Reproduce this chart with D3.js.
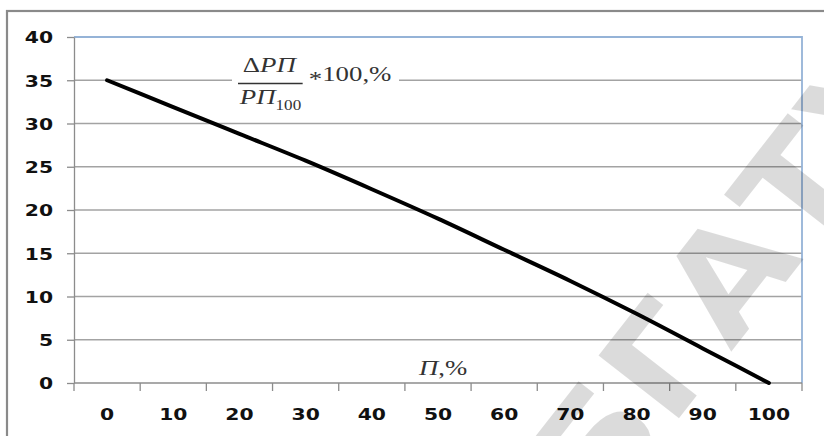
<!DOCTYPE html>
<html>
<head>
<meta charset="utf-8">
<script src="https://cdn.jsdelivr.net/npm/d3@7"></script>
<style>
  body { margin: 0; background: #fff; }
  svg { display: block; }
</style>
</head>
<body>
<div id="chart"></div>
<script>
// share of load, %
const categories = [0, 10, 20, 30, 40, 50, 60, 70, 80, 90, 100];
// relative change, %
const values = [35, 31.9, 28.8, 25.7, 22.4, 19.0, 15.4, 11.8, 8.0, 4.0, 0];
const yTicks = [0, 5, 10, 15, 20, 25, 30, 35, 40];

const W = 824, H = 436;
const sx = 1.27; // picture is stretched horizontally

let plot = {left: 74, right: 802, top: 37, bottom: 383};

let svg = d3.select("#chart")
    .append("svg")
        .attr("width", W)
        .attr("height", H);

// outer chart border
svg.append("rect")
    .attr("x", 7).attr("y", 11)
    .attr("width", 900).attr("height", 500)
    .attr("fill", "#fff")
    .attr("stroke", "#8a8a8a")
    .attr("stroke-width", 2.2);

let x = d3.scaleBand().domain(categories).range([plot.left, plot.right]).padding(0);
let y = d3.scaleLinear().domain([0, 40]).range([plot.bottom, plot.top]);
const cx = d => x(d) + x.bandwidth() / 2;

// gridlines
svg.append("g")
    .selectAll("line")
    .data(yTicks.filter(t => t > 0 && t < 40))
    .enter().append("line")
        .attr("x1", plot.left).attr("x2", plot.right)
        .attr("y1", d => y(d)).attr("y2", d => y(d))
        .attr("stroke", "#a3a3a3")
        .attr("stroke-width", 1.3);

// plot area top / right border
svg.append("path")
    .attr("d", `M${plot.left},${y(40)}H${plot.right}V${plot.bottom}`)
    .attr("fill", "none")
    .attr("stroke", "#95b3d7")
    .attr("stroke-width", 1.8);

// y axis
let yAxis = svg.append("g")
    .attr("transform", `translate(${plot.left},0)`)
    .call(d3.axisLeft(y).tickValues(yTicks).tickSize(7).tickPadding(14).tickSizeOuter(0));
yAxis.select(".domain").attr("stroke", "#8c8c8c").attr("stroke-width", 1.3);
yAxis.selectAll(".tick line").attr("stroke", "#8c8c8c").attr("stroke-width", 1.3);
yAxis.selectAll(".tick text")
    .attr("x", -21 / sx)
    .attr("dy", "0.36em")
    .attr("transform", `scale(${sx},1)`)
    .attr("fill", "#111")
    .style("font-family", "DejaVu Sans")
    .style("font-weight", "bold")
    .style("font-size", "16px");

// x axis: line + ticks between categories
svg.append("line")
    .attr("x1", plot.left).attr("x2", plot.right)
    .attr("y1", plot.bottom).attr("y2", plot.bottom)
    .attr("stroke", "#8c8c8c").attr("stroke-width", 1.3);
svg.append("g")
    .selectAll("line")
    .data(categories.map(c => x(c)).concat([plot.right]))
    .enter().append("line")
        .attr("x1", d => d).attr("x2", d => d)
        .attr("y1", plot.bottom).attr("y2", plot.bottom + 8)
        .attr("stroke", "#8c8c8c").attr("stroke-width", 1.3);

let xAxis = svg.append("g")
    .attr("transform", `translate(0,${plot.bottom})`)
    .call(d3.axisBottom(x).tickSize(0).tickPadding(0));
xAxis.select(".domain").remove();
xAxis.selectAll(".tick text")
    .attr("y", 37)
    .attr("dy", 0)
    .attr("transform", `scale(${sx},1)`)
    .attr("fill", "#111")
    .style("font-family", "DejaVu Sans")
    .style("font-weight", "bold")
    .style("font-size", "16px");

// watermark
svg.append("text")
    .attr("transform", "translate(598,522) rotate(-52) scale(1.1,1)")
    .attr("fill", "#000")
    .attr("fill-opacity", 0.14)
    .style("font-family", "DejaVu Sans")
    .style("font-weight", "bold")
    .style("font-size", "140px")
    .text("БГАТУ");

// data line
let line = d3.line()
    .x((d, i) => cx(categories[i]))
    .y(d => y(d))
    .curve(d3.curveMonotoneX);

svg.append("path")
    .datum(values)
    .attr("d", line)
    .attr("fill", "none")
    .attr("stroke", "#000")
    .attr("stroke-width", 4)
    .attr("stroke-linecap", "round");

// formula label  ΔРП / РП100 * 100,%
svg.append("rect")
    .attr("x", 232).attr("y", 52)
    .attr("width", 167).attr("height", 62)
    .attr("fill", "#fff");

let f = svg.append("g")
    .attr("transform", `translate(238,0) scale(1.22,1)`)
    .attr("fill", "#333")
    .style("font-family", "Liberation Serif")
    .style("font-size", "22px");

let num = f.append("text")
    .attr("x", 4).attr("y", 72);
num.append("tspan").text("Δ");
num.append("tspan").style("font-style", "italic").text("РП");
f.append("line")
    .attr("x1", 0).attr("x2", 53)
    .attr("y1", 83.5).attr("y2", 83.5)
    .attr("stroke", "#333").attr("stroke-width", 1.6);
let den = f.append("text")
    .attr("x", 1.5).attr("y", 104);
den.append("tspan").style("font-style", "italic").text("РП");
den.append("tspan").attr("dy", 6).style("font-size", "14px").text("100");
let rest = f.append("text")
    .attr("x", 58).attr("y", 81);
rest.append("tspan").attr("dy", 5).text("*");
rest.append("tspan").attr("dy", -5).text("100,%");

// x axis title  П,%
let xt = svg.append("text")
    .attr("transform", `translate(419,375) scale(${sx},1)`)
    .attr("fill", "#333")
    .style("font-family", "Liberation Serif")
    .style("font-size", "21px");
xt.append("tspan").style("font-style", "italic").text("П");
xt.append("tspan").text(",%");
</script>
</body>
</html>
